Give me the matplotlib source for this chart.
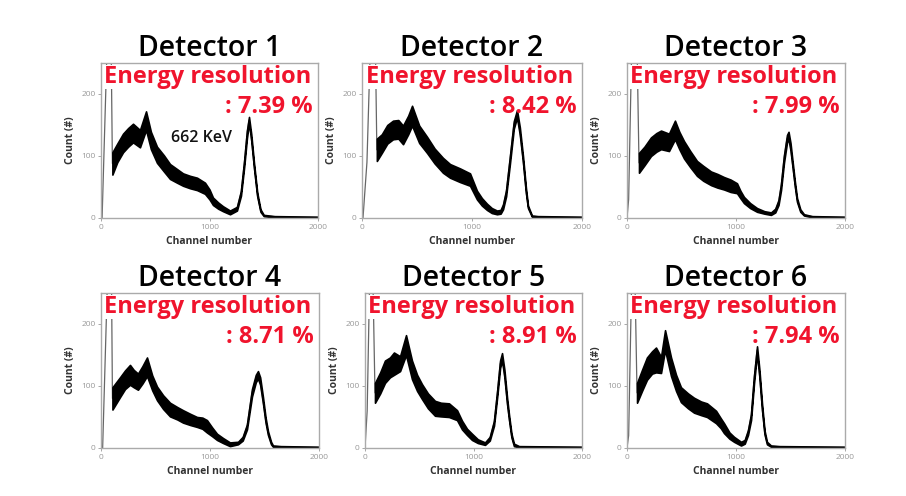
import numpy as np
import matplotlib.pyplot as plt

plt.rcParams['font.family'] = ['Open Sans', 'DejaVu Sans']

titles = ['Detector 1', 'Detector 2', 'Detector 3', 'Detector 4', 'Detector 5', 'Detector 6']
resolutions = ['7.39', '8.42', '7.99', '8.71', '8.91', '7.94']

# spectra: channel, band centre, band half-width (counts)
det1_ch = [0, 10, 60, 92, 105, 150, 203, 250, 295, 359, 415, 460, 516, 580, 636, 700, 756, 820, 885, 958,
           1000, 1032, 1080, 1124, 1189, 1253, 1290, 1320, 1345, 1364, 1385, 1410, 1440, 1470, 1500, 1600, 2000]
det1_mid = [0, 0, 300, 300, 88, 105, 121, 130, 137, 128, 157, 125, 102, 88, 75, 68, 62, 58, 55, 48,
            38, 27, 20, 15, 9, 15, 40, 88, 135, 158, 130, 85, 38, 12, 4, 2, 1]
det1_band = [0, 0, 0, 0, 18, 15, 15, 15, 15, 14, 15, 14, 13, 13, 12, 11, 10, 10, 10, 9,
             8, 6, 5, 4, 3, 3, 4, 5, 6, 5, 5, 4, 3, 2, 1, 1, 1]

det2_ch = [0, 9, 45, 80, 120, 135, 180, 230, 282, 330, 373, 420, 455, 520, 591, 660, 736, 800, 891, 982,
           1045, 1090, 1136, 1180, 1227, 1260, 1282, 1310, 1345, 1380, 1409, 1435, 1464, 1490, 1509, 1545, 1600, 2000]
det2_mid = [0, 0, 90, 300, 300, 110, 120, 135, 142, 143, 134, 150, 165, 135, 118, 100, 85, 76, 69, 62,
            37, 26, 18, 12, 9, 10, 18, 40, 94, 150, 168, 140, 94, 45, 18, 3, 2, 1]
det2_band = [0, 0, 0, 0, 0, 18, 15, 15, 15, 15, 15, 15, 16, 14, 13, 12, 12, 11, 11, 10,
             7, 6, 5, 4, 3, 3, 4, 5, 6, 6, 6, 6, 5, 4, 2, 1, 1, 1]

det3_ch = [0, 15, 46, 90, 110, 160, 220, 270, 312, 385, 440, 480, 523, 580, 642, 700, 771, 830, 890, 950,
           1009, 1040, 1073, 1130, 1193, 1260, 1321, 1360, 1390, 1413, 1440, 1468, 1482, 1500, 1514, 1540,
           1560, 1590, 1624, 1700, 2000]
det3_mid = [0, 30, 300, 300, 89, 100, 115, 122, 126, 122, 142, 125, 110, 95, 80, 72, 64, 60, 56, 52,
            48, 38, 29, 20, 13, 9, 7, 12, 25, 50, 95, 128, 133, 115, 94, 55,
            29, 12, 5, 2, 1]
det3_band = [0, 0, 0, 0, 16, 15, 15, 15, 15, 14, 15, 14, 14, 13, 12, 12, 11, 11, 10, 10,
             8, 6, 5, 4, 3, 2, 2, 3, 4, 5, 6, 6, 6, 6, 5, 4,
             3, 2, 1, 1, 1]

det4_ch = [0, 15, 64, 95, 105, 174, 220, 266, 300, 339, 380, 422, 470, 514, 570, 633, 700, 752, 820, 881,
           930, 972, 1020, 1064, 1120, 1183, 1257, 1300, 1339, 1385, 1420, 1440, 1460, 1486, 1510, 1532,
           1560, 1578, 1650, 2000]
det4_mid = [0, 0, 300, 300, 80, 98, 110, 118, 112, 107, 118, 131, 105, 88, 74, 62, 56, 51, 46, 42,
            40, 35, 26, 18, 12, 6, 8, 15, 34, 89, 112, 118, 108, 77, 45, 24,
            8, 3, 2, 1]
det4_band = [0, 0, 0, 0, 18, 16, 15, 16, 14, 13, 14, 15, 12, 11, 11, 11, 10, 10, 9, 8,
             9, 10, 7, 5, 4, 3, 2, 3, 4, 6, 6, 6, 6, 5, 4, 3,
             2, 1, 1, 1]

det5_ch = [0, 20, 46, 70, 92, 140, 184, 230, 267, 323, 378, 433, 480, 525, 580, 645, 700, 774, 848, 894,
           940, 986, 1040, 1106, 1150, 1189, 1220, 1245, 1263, 1285, 1310, 1327, 1350, 1373, 1420, 2000]
det5_mid = [0, 60, 300, 300, 89, 105, 123, 130, 136, 136, 166, 126, 105, 91, 76, 64, 62, 61, 53, 37,
            26, 18, 11, 7, 15, 40, 90, 135, 147, 120, 75, 50, 20, 5, 2, 1]
det5_band = [0, 0, 0, 0, 16, 17, 18, 16, 18, 12, 16, 15, 13, 12, 12, 12, 11, 11, 8, 7,
             5, 5, 3, 2, 3, 4, 5, 6, 6, 6, 5, 4, 3, 2, 1, 1]

det6_ch = [0, 15, 46, 70, 92, 140, 183, 230, 266, 312, 349, 404, 450, 495, 560, 615, 680, 734, 817, 860,
           890, 940, 982, 1046, 1080, 1110, 1138, 1165, 1193, 1215, 1239, 1262, 1284, 1321, 1400, 2000]
det6_mid = [0, 20, 300, 300, 89, 110, 128, 138, 142, 134, 174, 131, 105, 86, 76, 69, 64, 61, 50, 40,
            32, 20, 14, 7, 10, 25, 50, 110, 158, 120, 66, 25, 8, 3, 2, 1]
det6_band = [0, 0, 0, 0, 16, 17, 18, 18, 20, 13, 16, 15, 13, 12, 12, 12, 11, 11, 10, 8,
             8, 5, 4, 3, 3, 4, 5, 6, 6, 6, 5, 3, 2, 1, 1, 1]

spectra = [(det1_ch, det1_mid, det1_band), (det2_ch, det2_mid, det2_band), (det3_ch, det3_mid, det3_band),
           (det4_ch, det4_mid, det4_band), (det5_ch, det5_mid, det5_band), (det6_ch, det6_mid, det6_band)]

W, H = 906, 496
fig = plt.figure(figsize=(W / 100, H / 100), dpi=100)

# axes boxes in pixels: left, right, top, bottom
lefts = [101, 362, 627, 101, 365, 627]
rights = [318, 582, 845, 319, 582, 845]
tops = [63, 63, 63, 293, 293, 293]
bottoms = [218, 218, 218, 448, 448, 448]

red = '#f0142d'
for i in range(6):
    l, r, t, b = lefts[i], rights[i], tops[i], bottoms[i]
    ax = fig.add_axes([l / W, 1 - b / H, (r - l) / W, (b - t) / H])
    ch, mid, band = spectra[i]
    ch = np.array(ch)
    mid = np.array(mid, dtype=float)
    band = np.array(band, dtype=float)
    ax.plot(ch, mid, color='#666666', lw=0.9, zorder=1)
    ax.fill_between(ch, mid - band, mid + band, where=band > 0, facecolor='black',
                    edgecolor='black', lw=1.2, zorder=2)
    ax.set_xlim(0, 2000)
    ax.set_ylim(0, 250)
    ax.set_xticks([0, 1000, 2000])
    ax.set_yticks([0, 100, 200])
    ax.tick_params(length=2, width=0.6, colors='#999999', labelsize=6, pad=2)
    for s in ax.spines.values():
        s.set_color('#aaaaaa')
        s.set_linewidth(1.0)
    ax.set_xlabel('Channel number', fontsize=7.5, fontweight='bold', color='#333333', labelpad=4)
    ax.set_ylabel('Count (#)', fontsize=7.5, fontweight='bold', color='#333333', labelpad=4)

    hgt = b - t
    ax.text(0.5, 1 + 15 / hgt, titles[i], transform=ax.transAxes, ha='center', va='center',
            fontsize=20.5, fontweight='semibold', color='black')
    ax.text(0.49, 1 - 14 / hgt, 'Energy resolution', transform=ax.transAxes, ha='center', va='center',
            fontsize=17, fontweight='bold', color=red,
            bbox=dict(facecolor='white', edgecolor='none', pad=0))
    ax.text(0.975, 1 - 44 / hgt, ': ' + resolutions[i] + ' %', transform=ax.transAxes, ha='right',
            va='center', fontsize=17, fontweight='bold', color=red)
    if i == 0:
        ax.text(922, 129, '662 KeV', ha='center', va='center', fontsize=11.5, fontweight='semibold',
                color='#111111')

fig.savefig('out.png', dpi=100)
